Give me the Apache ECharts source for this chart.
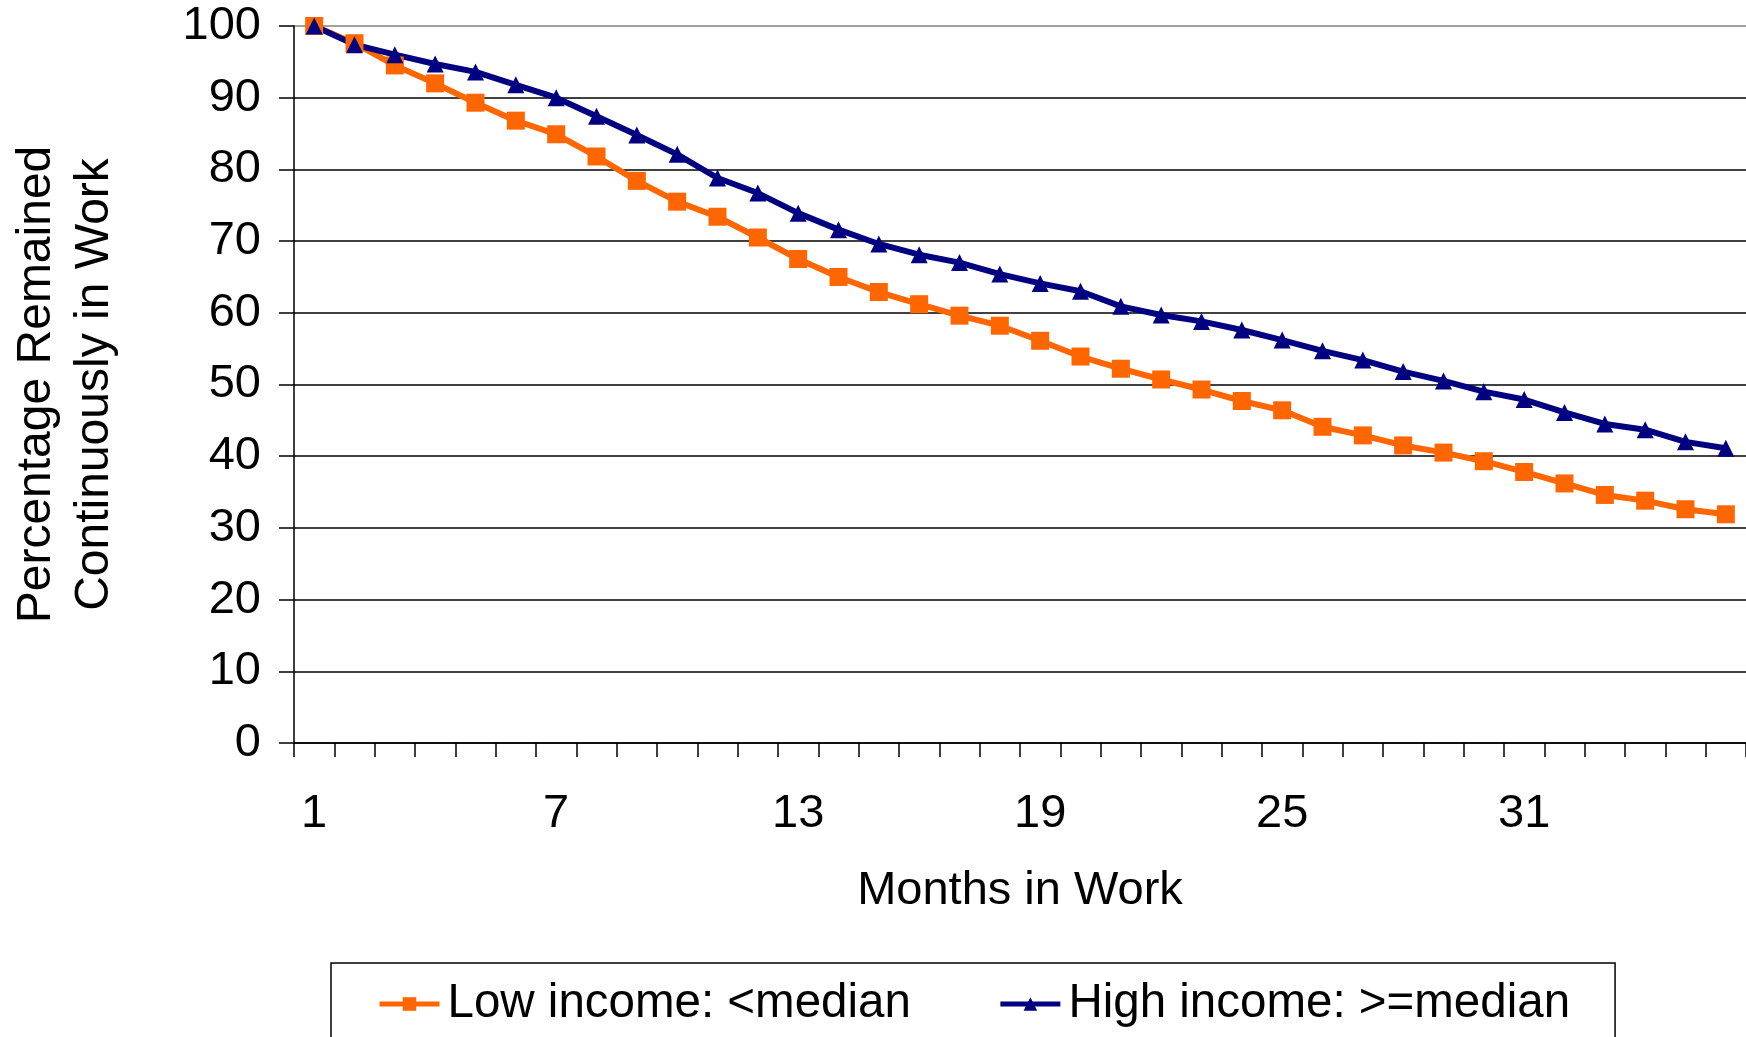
<!DOCTYPE html>
<html>
<head>
<meta charset="utf-8">
<script src="https://cdn.jsdelivr.net/npm/echarts@6/dist/echarts.min.js"></script>
<style>
  html, body { margin: 0; padding: 0; background: #fff; }
  #main { width: 1746px; height: 1037px; }
</style>
</head>
<body>
<div id="main"></div>
<script>
const months = []
for (let m = 1; m <= 36; m++) months.push(String(m))

const lowIncome = [
  100, 97.6, 94.5, 92.0, 89.3, 86.8, 84.9, 81.8, 78.4, 75.5, 73.4, 70.5,
  67.5, 65.0, 62.9, 61.2, 59.6, 58.2, 56.1, 53.9, 52.2, 50.7, 49.3, 47.7,
  46.4, 44.1, 42.9, 41.5, 40.5, 39.3, 37.8, 36.2, 34.6, 33.8, 32.6, 31.9
]
const highIncome = [
  100, 97.4, 96.0, 94.7, 93.6, 91.8, 90.0, 87.4, 84.8, 82.1, 78.8, 76.7,
  73.9, 71.6, 69.6, 68.1, 67.0, 65.4, 64.1, 63.0, 60.9, 59.7, 58.8, 57.6,
  56.2, 54.7, 53.4, 51.8, 50.5, 49.0, 47.9, 46.1, 44.5, 43.7, 42.0, 41.1
]

const font = '"Liberation Sans", Arial, sans-serif'
const chart = echarts.init(document.getElementById('main'))

// gridlines black, top one (plot border) gray
const gridColors = ['#000', '#000', '#000', '#000', '#000', '#000', '#000', '#000', '#000', '#000', '#808080']

chart.setOption({
  animation: false,
  backgroundColor: '#fff',
  textStyle: { fontFamily: font },
  grid: { left: 289, top: 26, right: -5, bottom: 294, containLabel: false },
  xAxis: {
    type: 'category',
    data: months,
    boundaryGap: true,
    name: 'Months in Work',
    nameLocation: 'middle',
    nameGap: 125,
    nameTextStyle: { fontSize: 47, color: '#000', fontFamily: font },
    axisLine: { lineStyle: { color: '#000', width: 1.5 } },
    axisTick: { show: true, interval: 0, length: 14, lineStyle: { color: '#000', width: 1.5 } },
    axisLabel: { interval: 5, fontSize: 47, color: '#000', margin: 48, fontFamily: font },
    splitLine: { show: false }
  },
  yAxis: {
    type: 'value',
    min: 0,
    max: 100,
    interval: 10,
    name: 'Percentage Remained\nContinuously in Work',
    nameLocation: 'middle',
    nameGap: 170,
    nameTextStyle: { fontSize: 48, color: '#000', lineHeight: 58, fontFamily: font },
    axisLine: { show: true, lineStyle: { color: '#000', width: 1.5 } },
    axisTick: { show: true, length: 15, lineStyle: { color: '#000', width: 1.5 } },
    axisLabel: { fontSize: 47, color: '#000', margin: 33, fontFamily: font },
    splitLine: { show: true, lineStyle: { color: gridColors, width: 1.5 } }
  },
  legend: {
    left: 331,
    top: 963,
    orient: 'horizontal',
    padding: [17, 45, 80, 46],
    itemGap: 87,
    itemWidth: 60,
    itemHeight: 17,
    borderColor: '#000',
    borderWidth: 1.5,
    lineStyle: { width: 5 },
    textStyle: { fontSize: 47.5, color: '#000', fontFamily: font, padding: [0, 0, 0, 3] },
    data: ['Low income: <median', 'High income: >=median']
  },
  series: [
    {
      name: 'Low income: <median',
      type: 'line',
      data: lowIncome,
      symbol: 'rect',
      symbolSize: 18,
      lineStyle: { color: '#FF6600', width: 6 },
      itemStyle: { color: '#FF6600' }
    },
    {
      name: 'High income: >=median',
      type: 'line',
      data: highIncome,
      symbol: 'triangle',
      symbolSize: 17,
      lineStyle: { color: '#000080', width: 6 },
      itemStyle: { color: '#000080' }
    }
  ]
})
</script>
</body>
</html>
